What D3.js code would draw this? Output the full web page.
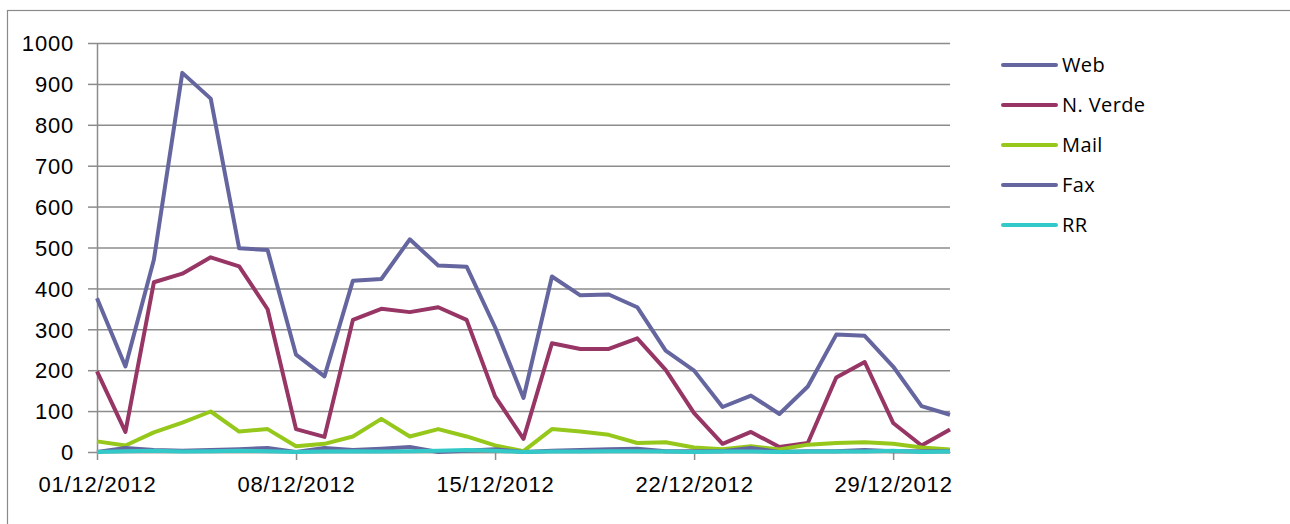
<!DOCTYPE html>
<meta charset="utf-8">
<style>
body { margin: 0; background: #fff; }
svg { font-family: "Open Sans", sans-serif; }
.grid line { stroke: #8c8c8c; stroke-width: 1.5; }
.grid path { stroke-width: 0; }
.axis path, .axis line { stroke: #8c8c8c; stroke-width: 1.5; }
.axis text { font-size: 22px; fill: #000; letter-spacing: 0.8px; }
.series { fill: none; stroke-width: 4; stroke-linejoin: round; }
.legend text { font-size: 20px; fill: #000; letter-spacing: 0.4px; }
</style>
<body>
<script src="https://cdnjs.cloudflare.com/ajax/libs/d3/7.8.5/d3.min.js"></script>
<script>

// one value per day, December 2012
var days = ["01/12/2012","02/12/2012","03/12/2012","04/12/2012","05/12/2012","06/12/2012","07/12/2012",
  "08/12/2012","09/12/2012","10/12/2012","11/12/2012","12/12/2012","13/12/2012","14/12/2012",
  "15/12/2012","16/12/2012","17/12/2012","18/12/2012","19/12/2012","20/12/2012","21/12/2012",
  "22/12/2012","23/12/2012","24/12/2012","25/12/2012","26/12/2012","27/12/2012","28/12/2012",
  "29/12/2012","30/12/2012","31/12/2012"];

var web    = [376,209,470,927,864,498,494,238,185,419,423,520,456,453,305,132,429,383,385,354,248,199,110,138,93,160,287,284,209,112,91];
var nVerde = [197,49,415,436,476,454,349,56,37,323,350,342,354,323,136,32,266,252,252,278,201,95,20,49,12,22,182,220,71,16,55];
var mail   = [26,16,48,72,99,50,56,14,20,38,81,38,56,38,16,2,56,50,42,22,24,11,7,14,6,18,22,24,20,11,6];
var fax    = [0,10,5,3,5,7,10,0,10,5,8,12,0,3,7,0,3,5,7,8,2,2,2,10,0,2,2,5,2,2,2];
var rr     = [0,2,3,1,2,3,2,0,1,2,1,2,3,5,3,0,1,1,2,2,1,0,1,1,0,1,1,1,3,0,1];

var seriesNames = ["Web","N. Verde","Mail","Fax","RR"];
var seriesColors = ["#65669f","#973565","#95c81a","#65669f","#33c9c9"];
var yTicks = [0,100,200,300,400,500,600,700,800,900,1000];
var xTickLabels = ["01/12/2012","08/12/2012","15/12/2012","22/12/2012","29/12/2012"];

var parse = d3.timeParse("%d/%m/%Y");
var fmt = d3.timeFormat("%d/%m/%Y");

var W = 1290, H = 524;
var plot = {left: 97, right: 950, top: 43, bottom: 452};

var svg = d3.select("body").append("svg")
    .attr("width", W)
    .attr("height", H);

// chart frame (only top and left edges fall inside the window)
svg.append("rect")
    .attr("x", 7.5).attr("y", 10.5)
    .attr("width", 1400).attr("height", 600)
    .attr("fill", "none")
    .attr("stroke", "#8a8a8a")
    .attr("stroke-width", 1.2);

var x = d3.scaleTime()
    .domain([parse(days[0]), parse(days[days.length - 1])])
    .range([plot.left, plot.right]);

var y = d3.scaleLinear()
    .domain([0, 1000])
    .range([plot.bottom, plot.top]);

// horizontal gridlines
svg.append("g")
    .attr("class", "grid")
    .attr("transform", "translate(" + plot.left + ",0)")
    .call(d3.axisLeft(y).tickValues(yTicks).tickSize(-(plot.right - plot.left)).tickFormat(""));

// y axis
svg.append("g")
    .attr("class", "axis")
    .attr("transform", "translate(" + plot.left + ",0)")
    .call(d3.axisLeft(y).tickValues(yTicks).tickFormat(d3.format("d"))
      .tickSize(9).tickSizeOuter(0).tickPadding(14))
    .selectAll("text").attr("dy", "0.35em");

// x axis
svg.append("g")
    .attr("class", "axis")
    .attr("transform", "translate(0," + plot.bottom + ")")
    .call(d3.axisBottom(x)
      .tickValues(xTickLabels.map(parse))
      .tickFormat(fmt)
      .tickSize(8).tickSizeOuter(0).tickPadding(16));

var all = [web, nVerde, mail, fax, rr];

var line = d3.line()
    .x(function(d, i) { return x(parse(days[i])); })
    .y(function(d) { return y(d); });

svg.selectAll(".series")
    .data(all)
  .enter().append("path")
    .attr("class", "series")
    .attr("stroke", function(d, i) { return seriesColors[i]; })
    .attr("d", line);

// legend
var legend = svg.append("g").attr("class", "legend")
  .selectAll("g")
    .data(seriesNames)
  .enter().append("g")
    .attr("transform", function(d, i) { return "translate(1003," + (65 + i * 40) + ")"; });

legend.append("line")
    .attr("x1", 0).attr("x2", 53)
    .attr("stroke", function(d, i) { return seriesColors[i]; })
    .attr("stroke-width", 4)
    .attr("stroke-linecap", "round");

legend.append("text")
    .attr("x", 59)
    .attr("dy", "0.35em")
    .text(function(d) { return d; });

</script>
</body>
